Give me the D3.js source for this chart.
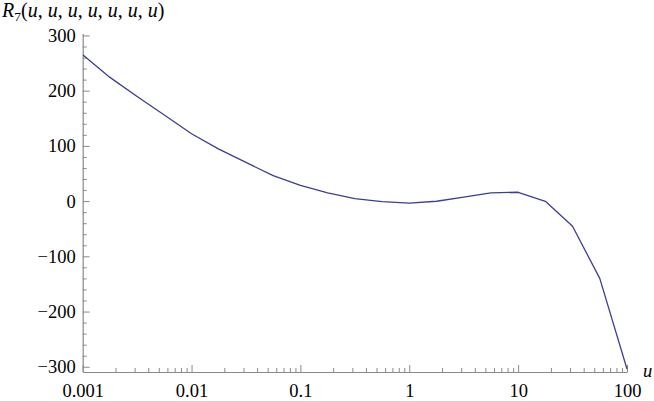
<!DOCTYPE html>
<html>
<head>
<meta charset="utf-8">
<script src="https://cdn.jsdelivr.net/npm/d3@7"></script>
<style>
  body { margin: 0; background: #fff; }
</style>
</head>
<body>
<svg id="chart" width="654" height="401"></svg>
<script>
// sample points, a quarter decade apart
const uValues = [0.001, 0.00178, 0.00316, 0.00562, 0.01, 0.0178, 0.0316, 0.0562,
                 0.1, 0.178, 0.316, 0.562, 1, 1.78, 3.16, 5.62, 10, 17.8, 31.6, 56.2, 100];
const rValues = [265, 224, 189.5, 156, 122, 94, 70, 46,
                 28.6, 14.8, 4.5, -1, -3.5, -0.3, 7, 14.8, 16, -0.3, -45.6, -140, -304];
const xMajorTicks = [0.001, 0.01, 0.1, 1, 10, 100];
const xTickLabels = ['0.001', '0.01', '0.1', '1', '10', '100'];
const yMajorTicks = [-300, -200, -100, 0, 100, 200, 300];

const data = uValues.map((u, i) => ({ u: u, r: rValues[i] }));

const svg = d3.select('#chart');
const plotLeft = 82.7, plotRight = 627, plotTop = 33.5, plotBottom = 372;
const serif = "'Liberation Serif', serif";
const labelSize = '18.5px';

const x = d3.scaleLog().domain([0.001, 100]).range([plotLeft, plotRight]);
const y = d3.scaleLinear().domain([-309.5, 303.5]).range([plotBottom, plotTop]);

const axisColor = '#8a8a8a';

// minor ticks on x: 2..9 in each decade
const xMinor = [];
for (let d = 0.001; d < 100; d *= 10) {
    for (let m = 2; m <= 9; m++) xMinor.push(+(d * m).toPrecision(3));
}
// minor ticks on y: every 20
const yMinor = d3.range(-300, 301, 20).filter(v => v % 100 !== 0);

function styleAxis(g) {
    g.selectAll('line').attr('stroke', axisColor);
    g.select('.domain').attr('stroke', axisColor).attr('stroke-width', 1.2);
    g.selectAll('text')
        .attr('fill', '#000')
        .style('font-family', serif)
        .style('font-size', labelSize);
}

// x axis
svg.append('g')
    .attr('transform', `translate(0,${plotBottom})`)
    .call(d3.axisBottom(x).tickValues(xMinor).tickSize(-4).tickFormat('').tickSizeOuter(0))
    .call(styleAxis);
const xg = svg.append('g')
    .attr('transform', `translate(0,${plotBottom})`)
    .call(d3.axisBottom(x).tickValues(xMajorTicks).tickSize(-7).tickSizeOuter(0)
        .tickPadding(11.5).tickFormat((d, i) => xTickLabels[i]))
    .call(styleAxis);
xg.select('.domain').remove();

// y axis
svg.append('g')
    .attr('transform', `translate(${plotLeft},0)`)
    .call(d3.axisLeft(y).tickValues(yMinor).tickSize(-4).tickFormat('').tickSizeOuter(0))
    .call(styleAxis);
const yg = svg.append('g')
    .attr('transform', `translate(${plotLeft},0)`)
    .call(d3.axisLeft(y).tickValues(yMajorTicks).tickSize(-7).tickSizeOuter(0)
        .tickPadding(7).tickFormat(d => d < 0 ? '\u2212' + Math.abs(d) : String(d)))
    .call(styleAxis);
yg.select('.domain').remove();

// clip the curve to the plot region
svg.append('clipPath').attr('id', 'plot-clip')
    .append('rect')
    .attr('x', plotLeft).attr('y', plotTop)
    .attr('width', plotRight - plotLeft + 1).attr('height', plotBottom - plotTop);

const line = d3.line().x(d => x(d.u)).y(d => y(d.r));
svg.append('path')
    .datum(data)
    .attr('clip-path', 'url(#plot-clip)')
    .attr('d', line)
    .attr('fill', 'none')
    .attr('stroke', '#3d3d99')
    .attr('stroke-width', 1.3)
    .attr('stroke-linejoin', 'round');

// axis labels
const yLabel = svg.append('text')
    .attr('x', 2).attr('y', 17)
    .style('font-family', serif)
    .style('font-size', '20px');
yLabel.append('tspan').style('font-style', 'italic').text('R');
yLabel.append('tspan').style('font-size', '13.5px').attr('dy', 4).text('7');
yLabel.append('tspan').attr('dy', -4).text('(');
for (let i = 0; i < 7; i++) {
    yLabel.append('tspan').style('font-style', 'italic').text('u');
    if (i < 6) yLabel.append('tspan').text(', ');
}
yLabel.append('tspan').text(')');

svg.append('text')
    .attr('x', 643).attr('y', 377)
    .style('font-family', serif)
    .style('font-size', labelSize)
    .style('font-style', 'italic')
    .text('u');
</script>
</body>
</html>
